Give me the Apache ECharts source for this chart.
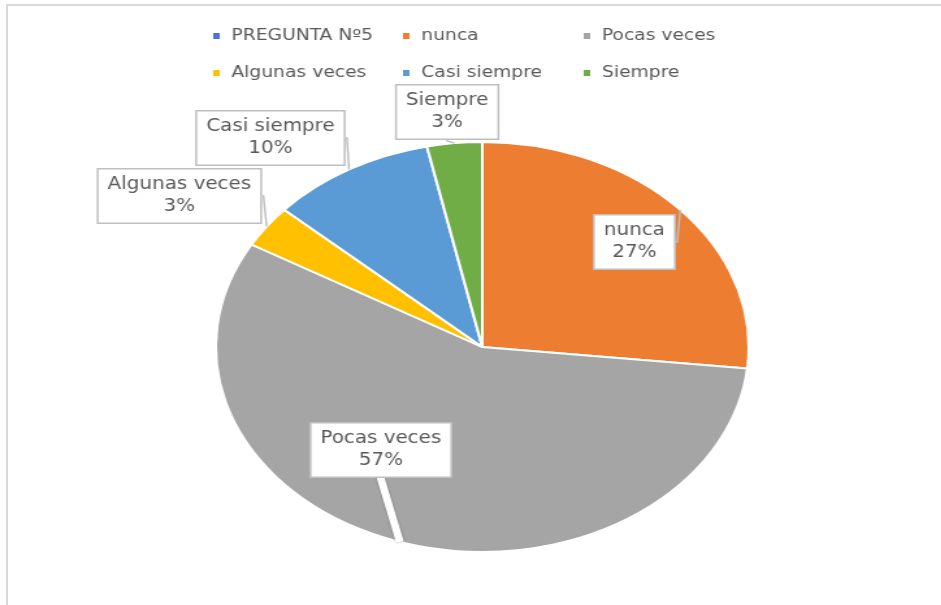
<!DOCTYPE html>
<html lang="es">
  <head>
    <meta charset="UTF-8" />
    <title>PREGUNTA Nº5</title>
    <style>
      html, body { margin: 0; padding: 0; background: #fff; overflow: hidden; }
      #frame {
        position: absolute; left: 6px; top: 4px; width: 960px; height: 620px;
        border-left: 2px solid #d9d9d9; border-top: 2px solid #d9d9d9;
      }
      #main {
        position: absolute; left: 0; top: 0; width: 724px; height: 605px;
        transform: scaleX(1.3); transform-origin: 0 0;
      }
    </style>
  </head>
  <body>
    <div id="frame"></div>
    <div id="main"></div>
    <script src="https://cdn.jsdelivr.net/npm/echarts@6/dist/echarts.min.js"></script>
    <script>
      /* globals echarts */
      var seriesName = "PREGUNTA Nº5";
      var categories = ["nunca", "Pocas veces", "Algunas veces", "Casi siempre", "Siempre"];
      var counts = [8, 17, 1, 3, 1];
      var colors = ["#ED7D31", "#A5A5A5", "#FFC000", "#5B9BD5", "#70AD47"];

      // label box centres (chart coords, before the horizontal stretch)
      var labelPos = [null, [488, 242], [293, 450], [138, 196], [208, 138], [344, 112]];

      var font = "'Liberation Sans Narrow', 'DejaVu Sans Condensed', 'Liberation Sans', sans-serif";
      var chart = echarts.init(document.getElementById("main"));

      var pieData = [{
        name: seriesName, value: 0,
        itemStyle: { color: "#4472C4" },
        label: { show: false }, labelLine: { show: false }
      }];
      categories.forEach(function (c, i) {
        var item = { name: c, value: counts[i], itemStyle: { color: colors[i] } };
        if (c === "Pocas veces") {
          item.labelLine = { lineStyle: { color: "#fff", width: 6, shadowColor: "rgba(0,0,0,0.35)", shadowBlur: 2 } };
        }
        pieData.push(item);
      });

      var legendSpots = [[157, 23], [303, 23], [442, 23], [157, 60], [303, 60], [442, 60]];
      var legends = [seriesName].concat(categories).map(function (n, i) {
        return {
          data: [n],
          left: legendSpots[i][0],
          top: legendSpots[i][1],
          icon: "rect",
          itemWidth: 7,
          itemHeight: 8,
          selectedMode: false,
          textStyle: { color: "#595959", fontSize: 16, fontFamily: font, padding: [0, 0, 0, 3] }
        };
      });

      chart.setOption({
        animation: false,
        legend: legends,
        series: [{
          name: seriesName,
          type: "pie",
          center: [371, 347],
          radius: 205,
          startAngle: 90,
          clockwise: true,
          data: pieData,
          itemStyle: { borderColor: "#fff", borderWidth: 2 },
          label: {
            show: true,
            position: "outside",
            formatter: function (p) { return p.name + "\n" + Math.round(p.percent) + "%"; },
            color: "#595959",
            fontSize: 17,
            lineHeight: 22,
            fontFamily: font,
            backgroundColor: "#fff",
            borderColor: "#bfbfbf",
            borderWidth: 1.5,
            padding: [5, 7, 4, 7],
            align: "center"
          },
          labelLine: {
            show: true, showAbove: true, length: 1, length2: 1,
            lineStyle: { color: "#bfbfbf", width: 1.5 }
          },
          labelLayout: function (p) {
            var pos = labelPos[p.dataIndex];
            if (!pos) return {};
            return { x: pos[0], y: pos[1], align: "center", verticalAlign: "middle" };
          }
        }]
      });
    </script>
  </body>
</html>
